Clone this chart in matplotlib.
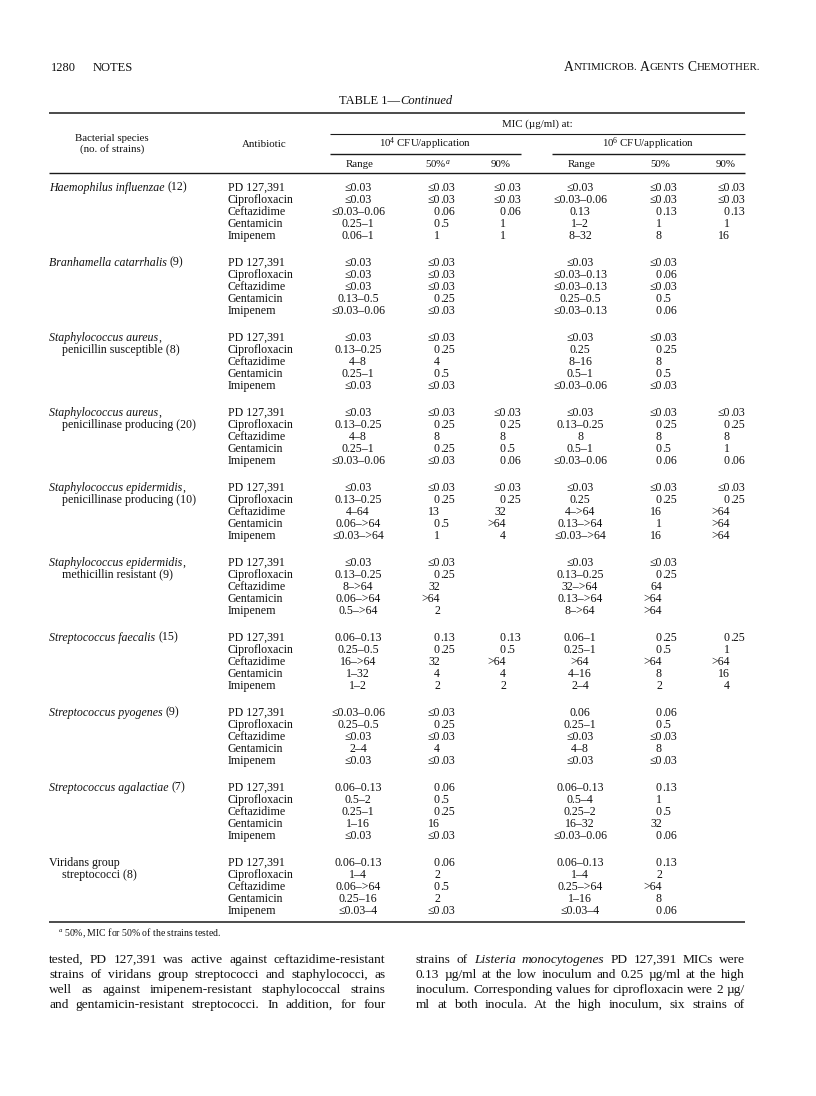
import matplotlib
matplotlib.use("Agg")
import matplotlib.pyplot as plt

# ---------------- data ----------------
ANTIBIOTICS = ["PD 127,391", "Ciprofloxacin", "Ceftazidime", "Gentamicin", "Imipenem"]

# (italic name, upright suffix, second line)
SPECIES = [
    ("Haemophilus influenzae", "(12)", None),
    ("Branhamella catarrhalis", "(9)", None),
    ("Staphylococcus aureus", ",", "penicillin susceptible (8)"),
    ("Staphylococcus aureus", ",", "penicillinase producing (20)"),
    ("Staphylococcus epidermidis", ",", "penicillinase producing (10)"),
    ("Staphylococcus epidermidis", ",", "methicillin resistant (9)"),
    ("Streptococcus faecalis", "(15)", None),
    ("Streptococcus pyogenes", "(9)", None),
    ("Streptococcus agalactiae", "(7)", None),
    ("", "Viridans group", "streptococci (8)"),
]

# columns: 10^4 Range, 50%, 90%, 10^6 Range, 50%, 90%
H_INFLUENZAE = [
    ["≤0.03", "≤0.03", "≤0.03", "≤0.03", "≤0.03", "≤0.03"],
    ["≤0.03", "≤0.03", "≤0.03", "≤0.03–0.06", "≤0.03", "≤0.03"],
    ["≤0.03–0.06", "0.06", "0.06", "0.13", "0.13", "0.13"],
    ["0.25–1", "0.5", "1", "1–2", "1", "1"],
    ["0.06–1", "1", "1", "8–32", "8", "16"],
]
B_CATARRHALIS = [
    ["≤0.03", "≤0.03", "", "≤0.03", "≤0.03", ""],
    ["≤0.03", "≤0.03", "", "≤0.03–0.13", "0.06", ""],
    ["≤0.03", "≤0.03", "", "≤0.03–0.13", "≤0.03", ""],
    ["0.13–0.5", "0.25", "", "0.25–0.5", "0.5", ""],
    ["≤0.03–0.06", "≤0.03", "", "≤0.03–0.13", "0.06", ""],
]
S_AUREUS_SUSC = [
    ["≤0.03", "≤0.03", "", "≤0.03", "≤0.03", ""],
    ["0.13–0.25", "0.25", "", "0.25", "0.25", ""],
    ["4–8", "4", "", "8–16", "8", ""],
    ["0.25–1", "0.5", "", "0.5–1", "0.5", ""],
    ["≤0.03", "≤0.03", "", "≤0.03–0.06", "≤0.03", ""],
]
S_AUREUS_PEN = [
    ["≤0.03", "≤0.03", "≤0.03", "≤0.03", "≤0.03", "≤0.03"],
    ["0.13–0.25", "0.25", "0.25", "0.13–0.25", "0.25", "0.25"],
    ["4–8", "8", "8", "8", "8", "8"],
    ["0.25–1", "0.25", "0.5", "0.5–1", "0.5", "1"],
    ["≤0.03–0.06", "≤0.03", "0.06", "≤0.03–0.06", "0.06", "0.06"],
]
S_EPI_PEN = [
    ["≤0.03", "≤0.03", "≤0.03", "≤0.03", "≤0.03", "≤0.03"],
    ["0.13–0.25", "0.25", "0.25", "0.25", "0.25", "0.25"],
    ["4–64", "13", "32", "4–>64", "16", ">64"],
    ["0.06–>64", "0.5", ">64", "0.13–>64", "1", ">64"],
    ["≤0.03–>64", "1", "4", "≤0.03–>64", "16", ">64"],
]
S_EPI_METH = [
    ["≤0.03", "≤0.03", "", "≤0.03", "≤0.03", ""],
    ["0.13–0.25", "0.25", "", "0.13–0.25", "0.25", ""],
    ["8–>64", "32", "", "32–>64", "64", ""],
    ["0.06–>64", ">64", "", "0.13–>64", ">64", ""],
    ["0.5–>64", "2", "", "8–>64", ">64", ""],
]
S_FAECALIS = [
    ["0.06–0.13", "0.13", "0.13", "0.06–1", "0.25", "0.25"],
    ["0.25–0.5", "0.25", "0.5", "0.25–1", "0.5", "1"],
    ["16–>64", "32", ">64", ">64", ">64", ">64"],
    ["1–32", "4", "4", "4–16", "8", "16"],
    ["1–2", "2", "2", "2–4", "2", "4"],
]
S_PYOGENES = [
    ["≤0.03–0.06", "≤0.03", "", "0.06", "0.06", ""],
    ["0.25–0.5", "0.25", "", "0.25–1", "0.5", ""],
    ["≤0.03", "≤0.03", "", "≤0.03", "≤0.03", ""],
    ["2–4", "4", "", "4–8", "8", ""],
    ["≤0.03", "≤0.03", "", "≤0.03", "≤0.03", ""],
]
S_AGALACTIAE = [
    ["0.06–0.13", "0.06", "", "0.06–0.13", "0.13", ""],
    ["0.5–2", "0.5", "", "0.5–4", "1", ""],
    ["0.25–1", "0.25", "", "0.25–2", "0.5", ""],
    ["1–16", "16", "", "16–32", "32", ""],
    ["≤0.03", "≤0.03", "", "≤0.03–0.06", "0.06", ""],
]
VIRIDANS = [
    ["0.06–0.13", "0.06", "", "0.06–0.13", "0.13", ""],
    ["1–4", "2", "", "1–4", "2", ""],
    ["0.06–>64", "0.5", "", "0.25–>64", ">64", ""],
    ["0.25–16", "2", "", "1–16", "8", ""],
    ["≤0.03–4", "≤0.03", "", "≤0.03–4", "0.06", ""],
]
TABLE_ROWS = [H_INFLUENZAE, B_CATARRHALIS, S_AUREUS_SUSC, S_AUREUS_PEN, S_EPI_PEN,
              S_EPI_METH, S_FAECALIS, S_PYOGENES, S_AGALACTIAE, VIRIDANS]

COL_HEADERS = ["Range", "50%$^{a}$", "90%", "Range", "50%", "90%"]
GROUP_HEADERS = ["10$^{4}$ CFU/application", "10$^{6}$ CFU/application"]

BODY_LEFT = [
    "tested, PD 127,391 was active against ceftazidime-resistant",
    "strains of viridans group streptococci and staphylococci, as",
    "well as against imipenem-resistant staphylococcal strains",
    "and gentamicin-resistant streptococci. In addition, for four",
]
BODY_RIGHT = [
    "strains of *Listeria monocytogenes* PD 127,391 MICs were",
    "0.13 µg/ml at the low inoculum and 0.25 µg/ml at the high",
    "inoculum. Corresponding values for ciprofloxacin were 2 µg/",
    "ml at both inocula. At the high inoculum, six strains of",
]

# ---------------- setup ----------------
plt.rcParams['font.family'] = ['Liberation Serif', 'DejaVu Serif']
plt.rcParams['mathtext.fontset'] = 'custom'
plt.rcParams['mathtext.rm'] = 'Liberation Serif'
plt.rcParams['mathtext.it'] = 'Liberation Serif:italic'
plt.rcParams['mathtext.bf'] = 'Liberation Serif:bold'

W, H = 816, 1096
fig = plt.figure(figsize=(W / 100, H / 100), dpi=100)
ax = fig.add_axes([0, 0, 1, 1])
ax.set_xlim(0, W)
ax.set_ylim(H, 0)
ax.axis('off')
renderer = fig.canvas.get_renderer()


def tw(s, **kw):
    t = ax.text(0, 0, s, **kw)
    w = t.get_window_extent(renderer=renderer).width
    t.remove()
    return w


def bl(yc, size):
    # baseline from a visual centre
    return yc + 0.3 * size * 100 / 72


def put(x, yc, s, size, ha='left', style='normal'):
    ax.text(x, bl(yc, size), s, fontsize=size, ha=ha, va='baseline', style=style,
            color='#111111')


def runs(x, yc, parts, ha='left'):
    ws = [tw(t, fontsize=sz, style=st) if t.strip() else sz * 100 / 72 * 0.25
          for t, sz, st in parts]
    total = sum(ws)
    if ha == 'right':
        x -= total
    elif ha == 'center':
        x -= total / 2
    for (t, sz, st), w in zip(parts, ws):
        if t.strip():
            put(x, yc, t, sz, style=st)
        x += w


def rule(x0, x1, y, lw=1.0):
    ax.plot([x0, x1], [y, y], color='#1a1a1a', lw=lw, solid_capstyle='butt')


TS = 8.6     # table font size
HS = 7.8     # header font size
L, R = 49, 745

# page header
put(51, 67, "1280", 9.0)
put(93, 67, "NOTES", 9.0)
BIG, SMALL = 9.8, 7.8
runs(760, 67, [("A", BIG, 'normal'), ("NTIMICROB.", SMALL, 'normal'), (" ", SMALL, 'normal'),
               ("A", BIG, 'normal'), ("GENTS", SMALL, 'normal'), (" ", SMALL, 'normal'),
               ("C", BIG, 'normal'), ("HEMOTHER.", SMALL, 'normal')], ha='right')
runs(396, 100, [("TABLE 1—", 9.0, 'normal'), ("Continued", 9.0, 'italic')], ha='center')

# table header
rule(L, R, 113, 1.1)
put(537, 123.5, "MIC (µg/ml) at:", HS, ha='center')
rule(330, R, 133.5, 0.8)
put(425, 143.5, GROUP_HEADERS[0], HS, ha='center')
put(648, 143.5, GROUP_HEADERS[1], HS, ha='center')
rule(330, 521, 154, 1.0)
rule(552, R, 154, 1.0)
put(112, 138, "Bacterial species", HS, ha='center')
put(112, 149, "(no. of strains)", HS, ha='center')
put(264, 144, "Antibiotic", HS, ha='center')
HDR_X = [360, 438, 501, 582, 660, 726]
for x, h in zip(HDR_X, COL_HEADERS):
    put(x, 164, h, HS, ha='center')
rule(L, R, 173, 1.0)

# table body
COL_MODE = [('c', 358), ('d', 440), ('d', 506), ('c', 580), ('d', 662), ('d', 730)]
Y0, GSTEP, RSTEP = 187, 75, 12
sp = tw("x x", fontsize=TS) - tw("xx", fontsize=TS)
for g, (sp_it, sp_up, sp2) in enumerate(SPECIES):
    yg = Y0 + g * GSTEP
    x = L
    if sp_it:
        put(x, yg, sp_it, TS, style='italic')
        x += tw(sp_it, fontsize=TS, style='italic')
        if sp_up.startswith("("):
            x += sp
    put(x, yg, sp_up, TS)
    if sp2:
        put(62, yg + RSTEP, sp2, TS)
    for i, ab in enumerate(ANTIBIOTICS):
        y = yg + i * RSTEP
        put(228, y, ab, TS)
        for (mode, ax_x), v in zip(COL_MODE, TABLE_ROWS[g][i]):
            if not v:
                continue
            if mode == 'c':
                put(ax_x, y, v, TS, ha='center')
            else:
                if '.' in v and '–' not in v:
                    k = v.index('.')
                    put(ax_x, y, v[:k], TS, ha='right')
                    put(ax_x, y, v[k:], TS, ha='left')
                else:
                    put(ax_x, y, v, TS, ha='right')

rule(L, R, 922, 1.1)
put(58, 933, "$^{a}$ 50%, MIC for 50% of the strains tested.", 7.0)

# body text (justified, two columns)
BODY_Y = [959, 974, 989, 1004]
COLS = [(49, 385.5, BODY_LEFT), (416, 745, BODY_RIGHT)]


def parse_words(line):
    words = []
    italic = False
    for w in line.split(" "):
        if w.startswith("*"):
            italic = True
            w = w[1:]
        st = 'italic' if italic else 'normal'
        if w.endswith("*"):
            w = w[:-1]
            italic = False
        words.append((w, st))
    return words


# fit font size so the widest line has normal spacing
base = 10.0
sp_base = tw("x x", fontsize=base) - tw("xx", fontsize=base)
ratio = 10.0
for x0, x1, lines in COLS:
    for line in lines:
        ws = parse_words(line)
        nat = sum(tw(w, fontsize=base, style=st) for w, st in ws) + sp_base * (len(ws) - 1)
        ratio = min(ratio, (x1 - x0) / nat)
BS = base * ratio
for x0, x1, lines in COLS:
    for y, line in zip(BODY_Y, lines):
        ws = parse_words(line)
        widths = [tw(w, fontsize=BS, style=st) for w, st in ws]
        gap = (x1 - x0 - sum(widths)) / (len(ws) - 1)
        x = x0
        for (w, st), wd in zip(ws, widths):
            put(x, y, w, BS, style=st)
            x += wd + gap

fig.savefig("out.png", dpi=100)
